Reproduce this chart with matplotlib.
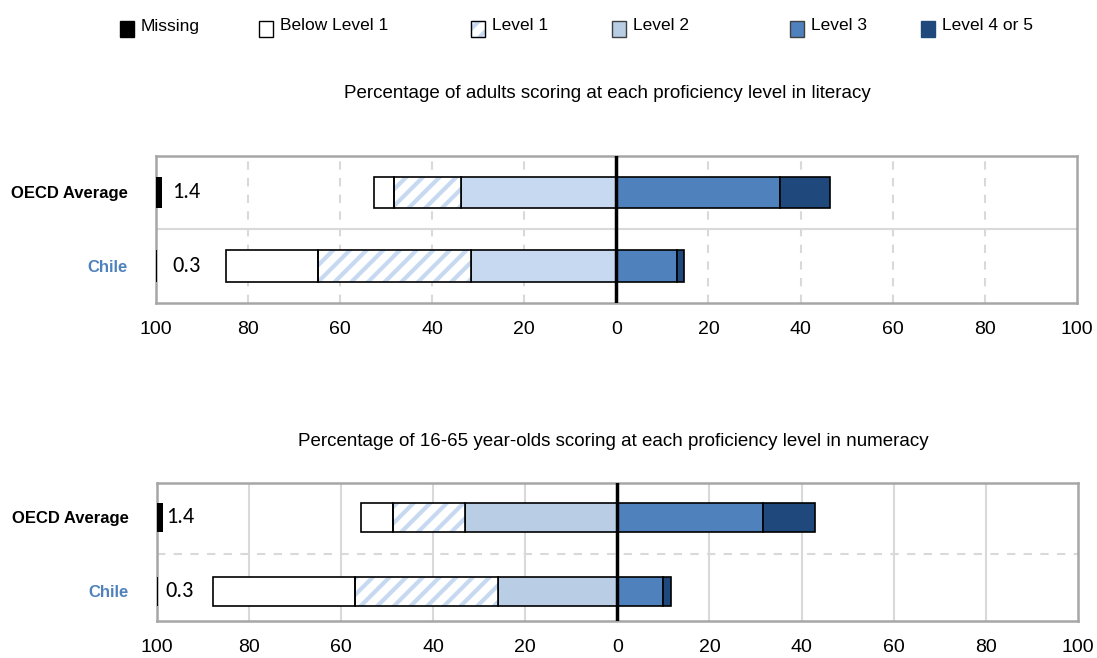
import numpy as np
import matplotlib; matplotlib.use("Agg")
import matplotlib.pyplot as plt
from matplotlib.patches import Rectangle

# ── data (percent of adults) ────────────────────────────────────────────────
countries   = ["OECD Average", "Chile"]
label_cols  = ["black", "#4f81bd"]

lit_missing = [1.4, 0.3]
lit_below   = [4.3, 20.0]
lit_l1      = [14.6, 33.1]
lit_l2      = [33.6, 31.6]
lit_l3      = [35.6, 13.1]
lit_l45     = [10.8, 1.7]

num_missing = [1.4, 0.3]
num_below   = [7.0, 30.7]
num_l1      = [15.7, 31.2]
num_l2      = [33.0, 25.8]
num_l3      = [31.7, 10.0]
num_l45     = [11.2, 1.7]

ticks       = [-100, -80, -60, -40, -20, 0, 20, 40, 60, 80, 100]
tick_labels = [str(abs(t)) for t in ticks]

legend_names = ["Missing", "Below Level 1", "Level 1", "Level 2", "Level 3", "Level 4 or 5"]

# ── style ───────────────────────────────────────────────────────────────────
W, H = 1097, 658
plt.rcParams["font.family"] = ["Liberation Sans", "DejaVu Sans"]
plt.rcParams["hatch.linewidth"] = 3.0
L2_TOP, L2_BOT = "#c6d9f1", "#b9cde5"
L3, L45 = "#4f81bd", "#1f497d"
HATCH_C = "#c6d9f1"
FRAME = "#a6a6a6"
GRID = "#d9d9d9"

fig = plt.figure(figsize=(W / 100, H / 100), dpi=100)


def px_axes(left, top, right, bottom):
    return fig.add_axes([left / W, 1 - bottom / H, (right - left) / W, (bottom - top) / H])


def panel(ax, missing, below, l1, l2, l3, l45, l2col, bh, ylim, grid_ls, sep_ls, lab_x):
    y = np.arange(len(countries))
    missing, below, l1, l2, l3, l45 = map(np.array, (missing, below, l1, l2, l3, l45))
    kw = dict(height=bh, edgecolor="black", linewidth=1.2, zorder=3)
    # grid
    for t in ticks[1:-1]:
        if t != 0:
            ax.axvline(t, color=GRID, lw=1.5, ls=grid_ls, zorder=0)
    ax.axhline(0.5, color=GRID, lw=1.5, ls=sep_ls, zorder=0)
    # left side
    ax.barh(y, -l2, left=0, color=l2col, **kw)
    ax.barh(y, -l1, left=-l2, color="white", edgecolor=HATCH_C, hatch="//",
            height=bh, linewidth=0, zorder=3)
    ax.barh(y, -l1, left=-l2, fill=False, edgecolor="black", linewidth=1.2,
            height=bh, zorder=4)
    ax.barh(y, -below, left=-(l2 + l1), color="white", **kw)
    # right side
    ax.barh(y, l3, left=0, color=L3, **kw)
    ax.barh(y, l45, left=l3, color=L45, **kw)
    # missing
    ax.barh(y, missing, left=-100, color="black", height=bh, linewidth=0, zorder=3)
    for yi, m in zip(y, missing):
        ax.text(lab_x, yi, f"{m:.1f}", va="center", ha="left", fontsize=16,
                family=["Carlito", "Open Sans", "DejaVu Sans"], zorder=5)
    ax.axvline(0, color="black", lw=2.5, zorder=5)

    ax.set_xlim(-100, 100)
    ax.set_ylim(*ylim)
    ax.set_xticks(ticks)
    ax.set_xticklabels(tick_labels, fontsize=14)
    ax.set_yticks(y)
    ax.set_yticklabels(countries, fontsize=12, fontweight="bold")
    for lab, c in zip(ax.get_yticklabels(), label_cols):
        lab.set_color(c)
    ax.tick_params(axis="x", length=0, pad=13)
    ax.tick_params(axis="y", length=0, pad=20)
    for s in ax.spines.values():
        s.set_color(FRAME)
        s.set_linewidth(1.8)


ax1 = px_axes(155.5, 155.7, 1077, 303.3)
panel(ax1, lit_missing, lit_below, lit_l1, lit_l2, lit_l3, lit_l45, L2_TOP,
      0.43, (1.51, -0.5), (0, (4, 4)), "-", -96.4)

ax2 = px_axes(156.5, 483, 1078, 620.7)
panel(ax2, num_missing, num_below, num_l1, num_l2, num_l3, num_l45, L2_BOT,
      0.40, (1.395, -0.466), "-", (0, (4, 4)), -98.0)

fig.text(607 / W, 1 - 94 / H, "Percentage of adults scoring at each proficiency level in literacy",
         ha="center", va="center", fontsize=13.5)
fig.text(613 / W, 1 - 441 / H,
         "Percentage of 16-65 year-olds scoring at each proficiency level in numeracy",
         ha="center", va="center", fontsize=13.5)

# ── legend (manual, irregular spacing as in the original) ───────────────────
leg_marker_x = [120, 259, 471, 612, 790, 921]
leg_styles = [
    dict(facecolor="black", edgecolor="black"),
    dict(facecolor="white", edgecolor="black"),
    dict(facecolor="white", edgecolor=HATCH_C, hatch="//"),
    dict(facecolor=L2_BOT, edgecolor="#404040"),
    dict(facecolor=L3, edgecolor="#404040"),
    dict(facecolor=L45, edgecolor=L45),
]
for name, mx, st in zip(legend_names, leg_marker_x, leg_styles):
    r = Rectangle((mx / W, 1 - 37 / H), 14 / W, 16 / H, transform=fig.transFigure,
                  linewidth=1.0, **st)
    fig.add_artist(r)
    if "hatch" in st:
        fig.add_artist(Rectangle((mx / W, 1 - 37 / H), 14 / W, 16 / H,
                                 transform=fig.transFigure, fill=False,
                                 edgecolor="black", linewidth=1.0))
    fig.text((mx + 21) / W, 1 - 26 / H, name, ha="left", va="center", fontsize=12.5)

fig.savefig("out.png", dpi=100)
